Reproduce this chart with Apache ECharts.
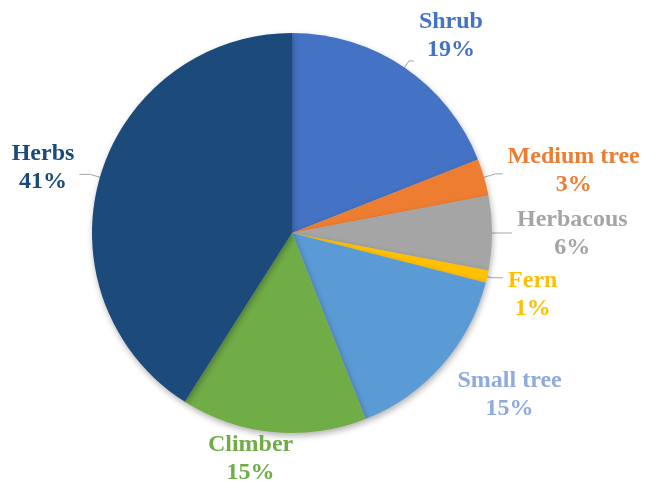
<!DOCTYPE html>
<html>
<head>
<meta charset="utf-8">
<script src="https://cdn.jsdelivr.net/npm/echarts@6/dist/echarts.min.js"></script>
<style>
  html, body { margin: 0; padding: 0; background: #fff; }
  #container { width: 654px; height: 481px; }
</style>
</head>
<body>
<div id="container"></div>
<script>
var dom = document.getElementById("container");
var myChart = echarts.init(dom);

// clockwise from 12 o'clock
var names = ["Shrub", "Medium tree", "Herbacous", "Fern", "Small tree", "Climber", "Herbs"];
var values = [19, 3, 6, 1, 15, 15, 41];
var sliceColors = ["#4472C4", "#ED7D31", "#A5A5A5", "#FFC000", "#5B9BD5", "#70AD47", "#1B4A7B"];
var labelColors = ["#4472C4", "#ED7D31", "#A5A5A5", "#FFC000", "#8FAADC", "#70AD47", "#1B4A7B"];
var hideLine = ["Small tree", "Climber"];

// leader line lengths and small label nudges (px)
var lineLen = [8, 12, 10, 5, 10, 10, 10];
var lineLen2 = [5, 7, 10, 11, 6, 0, 11];
var nudgeX = [0, 0, 0, 0, -3, 26, 0];
var nudgeY = [-25, -3, 1, 17, 23, 17, -7];

var pieCenter = [292, 233];

var pieData = names.map(function (n, i) {
    return {
        name: n,
        value: values[i],
        itemStyle: { color: sliceColors[i] },
        label: { color: labelColors[i] },
        labelLine: {
            show: hideLine.indexOf(n) < 0,
            length: lineLen[i],
            length2: lineLen2[i]
        }
    };
});

var option = {
    animation: false,
    series: [{
        type: 'pie',
        center: pieCenter,
        radius: 200,
        startAngle: 90,
        clockwise: true,
        avoidLabelOverlap: false,
        percentPrecision: 0,
        data: pieData,
        itemStyle: {
            borderWidth: 0,
            shadowBlur: 6,
            shadowOffsetX: 1,
            shadowOffsetY: 3,
            shadowColor: 'rgba(0,0,0,0.3)'
        },
        label: {
            show: true,
            position: 'outside',
            formatter: '{b}\n{d}%',
            fontFamily: 'Liberation Serif',
            fontWeight: 'bold',
            fontSize: 24,
            lineHeight: 28
        },
        labelLine: {
            lineStyle: { color: '#A6A6A6', width: 1 }
        },
        labelLayout: function (params) {
            var r = params.labelRect;
            var i = params.dataIndex;
            var right = r.x + r.width / 2 > pieCenter[0];
            return {
                align: 'center',
                dx: (right ? r.width / 2 : -r.width / 2) + nudgeX[i],
                dy: nudgeY[i]
            };
        }
    }]
};

myChart.setOption(option);
</script>
</body>
</html>
